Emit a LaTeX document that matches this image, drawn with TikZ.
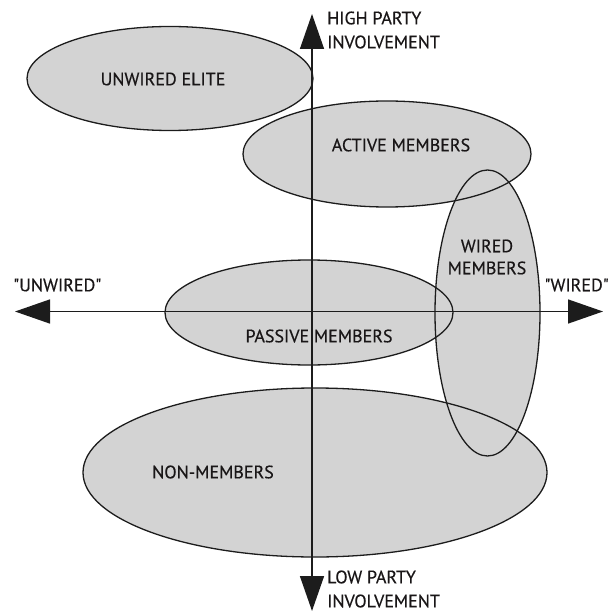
\documentclass[tikz,border=0pt]{standalone}
\usepackage{fontspec}
\setmainfont[FakeBold=0.4]{PT Sans}
\usetikzlibrary{arrows.meta}
\definecolor{regiongray}{RGB}{211,211,211}
\definecolor{linecol}{RGB}{28,28,28}
\definecolor{textcol}{RGB}{25,22,23}
\begin{document}
\begin{tikzpicture}[x=1pt,y=-1pt,
  region/.style={fill=regiongray},
  outline/.style={draw=linecol, line width=1.3pt},
  axisline/.style={draw=linecol, line width=1.5pt,
    {Triangle[length=35pt,width=24pt]}-{Triangle[length=35pt,width=24pt]}},
  lbl/.style={font=\fontsize{18}{22}\selectfont, text=textcol, inner sep=0pt, align=center},
  axlbl/.style={font=\fontsize{18}{24}\selectfont, text=textcol, inner sep=0pt, align=left}]
\useasboundingbox (0,0) rectangle (610,612);
% region fills
\path[region] (170,78.5) ellipse [x radius=143, y radius=52];
\path[region] (387,154) ellipse [x radius=144, y radius=53];
\path[region] (487.5,313) ellipse [x radius=52.5, y radius=143];
\path[region] (309,312.5) ellipse [x radius=144, y radius=52.5];
\path[region] (315,472.5) ellipse [x radius=232, y radius=84.5];
% region outlines
\path[outline] (170,78.5) ellipse [x radius=143, y radius=52];
\path[outline] (387,154) ellipse [x radius=144, y radius=53];
\path[outline] (487.5,313) ellipse [x radius=52.5, y radius=143];
\path[outline] (309,312.5) ellipse [x radius=144, y radius=52.5];
\path[outline] (315,472.5) ellipse [x radius=232, y radius=84.5];
% axes
\coordinate (top) at (312,14);
\coordinate (bottom) at (312,611);
\coordinate (left) at (15,311.5);
\coordinate (right) at (603,311.5);
\draw[axisline] (bottom) -- (top);
\draw[axisline] (left) -- (right);
% labels
\node[lbl] (elite) at (163,79) {UNWIRED ELITE};
\node[lbl] (active) at (401,145) {ACTIVE MEMBERS};
\node[lbl] (wired) at (487,257) {WIRED\\MEMBERS};
\node[lbl] (passive) at (319,336) {PASSIVE MEMBERS};
\node[lbl] (non) at (213,472) {NON-MEMBERS};
\node[axlbl, anchor=west] (high) at (327,30) {HIGH PARTY\\INVOLVEMENT};
\node[axlbl, anchor=west] (low) at (327,589) {LOW PARTY\\INVOLVEMENT};
\node[lbl, anchor=west] (unw) at (13,285) {\textquotedbl UNWIRED\textquotedbl};
\node[lbl, anchor=east] (wir) at (609,285) {\textquotedbl WIRED\textquotedbl};
\end{tikzpicture}
\end{document}
